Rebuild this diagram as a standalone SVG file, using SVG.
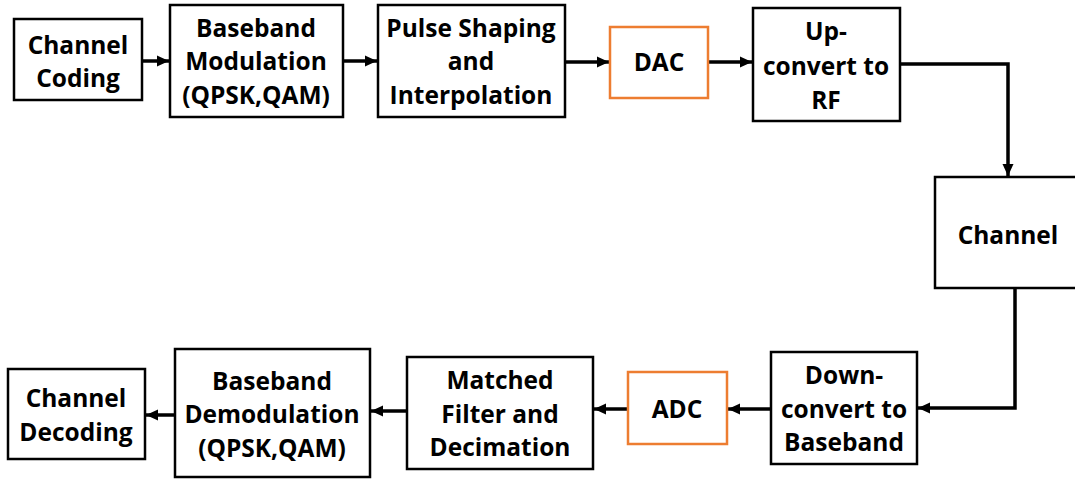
<svg xmlns="http://www.w3.org/2000/svg" width="1075" height="480" viewBox="0 0 1075 480">
<style>
.box{fill:#fff;stroke:#000;stroke-width:2.5}
.obox{fill:#fff;stroke:#ED7D31;stroke-width:2.5}
text{font-family:"Open Sans","Liberation Sans",sans-serif;font-weight:bold;font-size:24.5px;fill:#000;text-anchor:middle;dominant-baseline:central}
.conn{fill:none;stroke:#000;stroke-width:3.5}
</style>
<defs>
<marker id="arr" markerUnits="userSpaceOnUse" markerWidth="14" markerHeight="14" refX="12" refY="7" orient="auto">
<path d="M0,1.5 L12,7 L0,12.5 Z" fill="#000"/>
</marker>
</defs>
<rect width="1075" height="480" fill="#fff"/>
<g id="connectors">
<line class="conn" x1="142" y1="61" x2="169" y2="61" marker-end="url(#arr)"/>
<line class="conn" x1="343" y1="61" x2="377" y2="61" marker-end="url(#arr)"/>
<line class="conn" x1="565" y1="62" x2="609" y2="62" marker-end="url(#arr)"/>
<line class="conn" x1="708" y1="62" x2="752" y2="62" marker-end="url(#arr)"/>
<path class="conn" d="M900,64 H1008 V176" marker-end="url(#arr)"/>
<path class="conn" d="M1015,288 V408 H918" marker-end="url(#arr)"/>
<line class="conn" x1="771" y1="409" x2="728" y2="409" marker-end="url(#arr)"/>
<line class="conn" x1="628" y1="409" x2="594" y2="409" marker-end="url(#arr)"/>
<line class="conn" x1="407" y1="411" x2="371" y2="411" marker-end="url(#arr)"/>
<line class="conn" x1="175" y1="415" x2="146" y2="415" marker-end="url(#arr)"/>
</g>
<g id="channel-coding">
<rect class="box" x="14" y="19" width="128" height="81"/>
<text x="78" y="44">Channel</text>
<text x="78" y="77">Coding</text>
</g>
<g id="baseband-modulation">
<rect class="box" x="170" y="5" width="173" height="112"/>
<text x="256" y="27">Baseband</text>
<text x="256" y="60">Modulation</text>
<text x="256" y="94">(QPSK,QAM)</text>
</g>
<g id="pulse-shaping">
<rect class="box" x="378" y="5" width="187" height="112"/>
<text x="471" y="27">Pulse Shaping</text>
<text x="471" y="60">and</text>
<text x="471" y="94">Interpolation</text>
</g>
<g id="dac">
<rect class="obox" x="610" y="27" width="98" height="71"/>
<text x="659" y="61">DAC</text>
</g>
<g id="up-convert">
<rect class="box" x="753" y="8" width="147" height="113"/>
<text x="826" y="30">Up-</text>
<text x="826" y="65">convert to</text>
<text x="826" y="99">RF</text>
</g>
<g id="channel">
<rect class="box" x="935" y="177" width="150" height="111"/>
<text x="1008" y="234">Channel</text>
</g>
<g id="down-convert">
<rect class="box" x="771" y="352" width="146" height="112"/>
<text x="844" y="374">Down-</text>
<text x="844" y="408">convert to</text>
<text x="844" y="441">Baseband</text>
</g>
<g id="adc">
<rect class="obox" x="628" y="372" width="99" height="72"/>
<text x="677" y="408">ADC</text>
</g>
<g id="matched-filter">
<rect class="box" x="407" y="357" width="186" height="112"/>
<text x="500" y="379">Matched</text>
<text x="500" y="413">Filter and</text>
<text x="500" y="446">Decimation</text>
</g>
<g id="baseband-demodulation">
<rect class="box" x="175" y="349" width="195" height="128"/>
<text x="272" y="380">Baseband</text>
<text x="272" y="413">Demodulation</text>
<text x="272" y="447">(QPSK,QAM)</text>
</g>
<g id="channel-decoding">
<rect class="box" x="8" y="369" width="137" height="90"/>
<text x="76" y="397">Channel</text>
<text x="76" y="431">Decoding</text>
</g>
</svg>
